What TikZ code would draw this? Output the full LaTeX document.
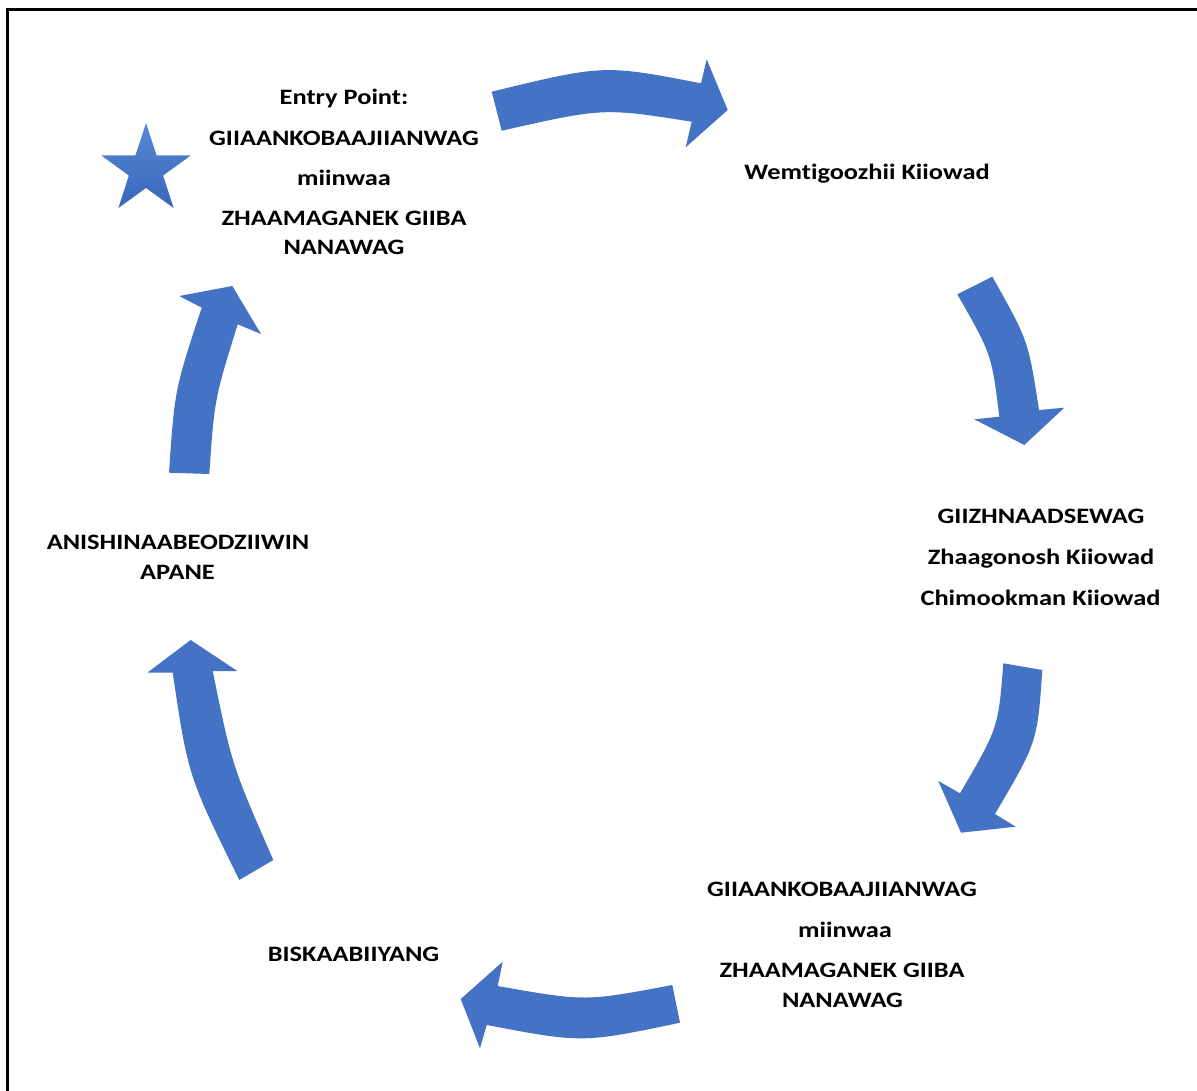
\documentclass[tikz,border=0pt]{standalone}
\usepackage{fontspec}
\setmainfont[Ligatures=NoCommon, FakeStretch=1.2]{Carlito}
\definecolor{cycleblue}{HTML}{4472C4}
\definecolor{starlight}{HTML}{5A88D6}
\definecolor{stardark}{HTML}{3866BA}
\begin{document}
\begin{tikzpicture}[x=1pt,y=-1pt,
  lbl/.style={font=\bfseries\fontsize{22}{30}\selectfont, anchor=base, inner sep=0pt},
  cyc/.style={fill=cycleblue, draw=none}]
\useasboundingbox (0,0) rectangle (1197,1091);
% outer frame
\draw[line width=3pt] (7.5,9.7) rectangle (1212,1110);

% curved block arrows of the cycle
\fill[cyc] (491.7,91.7) .. controls (603.65,64.5) .. (701,83.3)
  -- (706.7,59.3) -- (727.7,110) -- (685.7,147.3) -- (691.7,121.7)
  .. controls (603.3,107.8) .. (501.7,130.7) -- cycle;
\fill[cyc] (957.3,294.3) -- (992.3,276.7)
  .. controls (1028.35,340.65) .. (1039,410)
  -- (1064.3,407.7) -- (1024.3,445) -- (974.3,419.3) -- (999.3,416.7)
  .. controls (991.7,354.5) .. (957.3,294.3) -- cycle;
\fill[cyc] (1003.3,663.3) -- (1042.3,670)
  .. controls (1037.35,742) .. (995,814)
  -- (1015.7,826.7) -- (961,832.7) -- (938.3,781) -- (960,793.3)
  .. controls (998.35,727.7) .. (1003.3,663.3) -- cycle;
\fill[cyc] (672.3,985) -- (680,1022.7)
  .. controls (582.65,1043.15) .. (486.7,1025)
  -- (480,1048.3) -- (460.7,999) -- (502.7,961.7) -- (497.7,986)
  .. controls (585,1001.5) .. (672.3,985) -- cycle;
\fill[cyc] (273.3,860) -- (239.3,880)
  .. controls (188,775.65) .. (172.7,672.7)
  -- (147.3,672.7) -- (190.7,640) -- (237.3,671) -- (212.7,671)
  .. controls (232,765.5) .. (273.3,860) -- cycle;
\fill[cyc] (169,472.7) -- (209.3,474)
  .. controls (214.5,398.85) .. (237.7,324.3)
  -- (261,334) -- (232.3,286) -- (179.3,296) -- (201.7,307.7)
  .. controls (174.65,389.8) .. (169,472.7) -- cycle;

% star marking the entry point
\shade[top color=starlight, bottom color=stardark]
  plot[samples at={0,...,9}, variable=\k]
  ({146+ifthenelse(mod(\k,2)==0,47,18)*cos(-90+36*\k)},
   {170+ifthenelse(mod(\k,2)==0,47,18)*sin(-90+36*\k)}) -- cycle;

% stage labels
\node[lbl] (e1) at (344,105) {Entry Point:};
\node[lbl] (e2) at (344,145.7) {GIIAANKOBAAJIIANWAG};
\node[lbl] (e3) at (344,186) {miinwaa};
\node[lbl] (e4) at (344,225.7) {ZHAAMAGANEK GIIBA};
\node[lbl] (e5) at (344,255) {NANAWAG};

\node[lbl] (w1) at (867,180) {Wemtigoozhii Kiiowad};

\node[lbl] (g1) at (1041,523) {GIIZHNAADSEWAG};
\node[lbl] (g2) at (1041,564) {Zhaagonosh Kiiowad};
\node[lbl] (g3) at (1040.5,605) {Chimookman Kiiowad};

\node[lbl] (r1) at (842,896) {GIIAANKOBAAJIIANWAG};
\node[lbl] (r2) at (845,937) {miinwaa};
\node[lbl] (r3) at (842,977.7) {ZHAAMAGANEK GIIBA};
\node[lbl] (r4) at (842.5,1007) {NANAWAG};

\node[lbl] (b1) at (353.5,961) {BISKAABIIYANG};

\node[lbl] (a1) at (178,549) {ANISHINAABEODZIIWIN};
\node[lbl] (a2) at (177.5,579) {APANE};
\end{tikzpicture}
\end{document}
